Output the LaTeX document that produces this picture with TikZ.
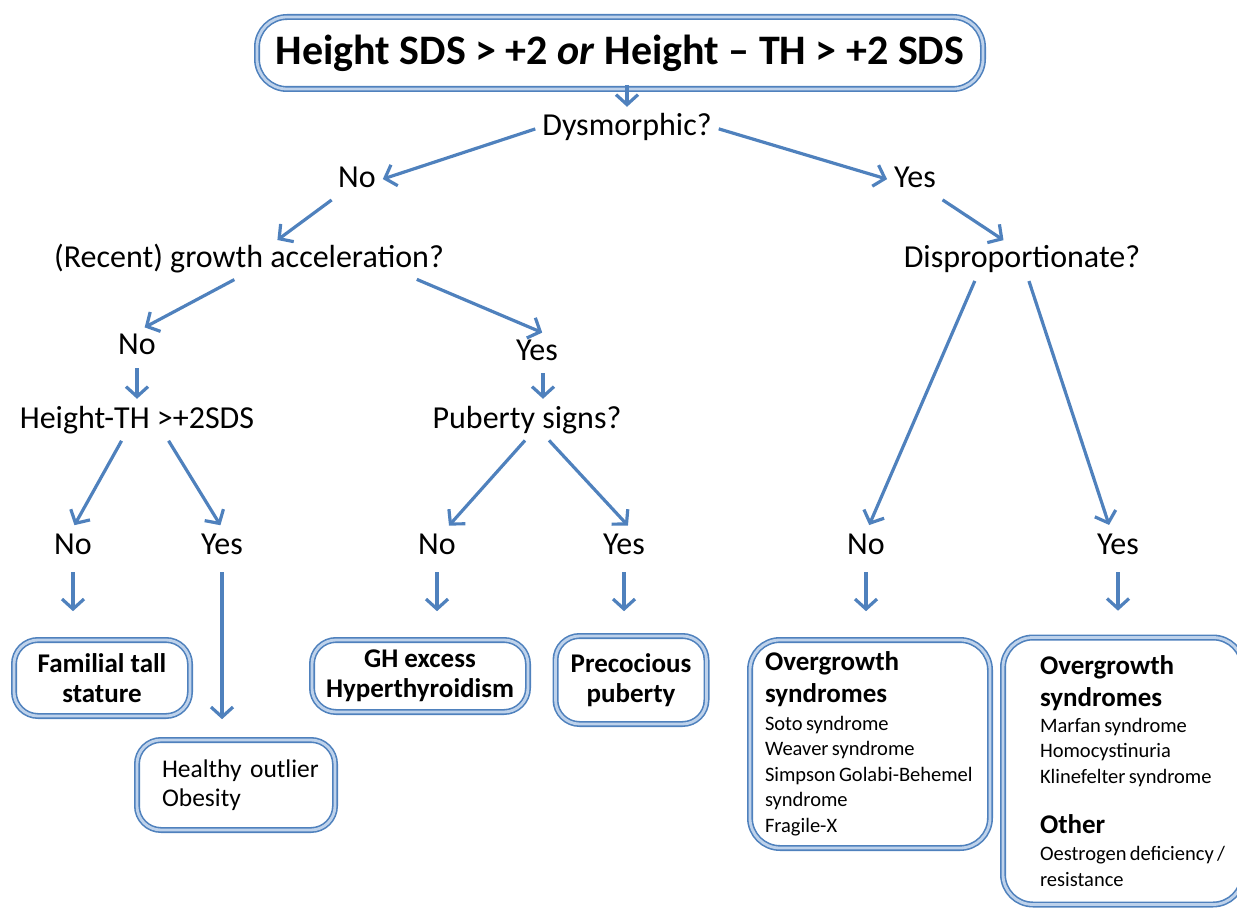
\documentclass[tikz,border=0pt]{standalone}
\usepackage{fontspec}
\setmainfont{Carlito}
\usetikzlibrary{arrows.meta}
\definecolor{flowblue}{RGB}{79,129,189}
\definecolor{glowblue}{RGB}{190,210,235}
\def\lblfont{\fontsize{32}{38}\selectfont}
\def\boxfont{\bfseries\fontsize{27}{30}\selectfont}
\def\headfont{\bfseries\fontsize{27}{32}\selectfont}
\def\smallfont{\mdseries\fontsize{20.5}{25.5}\selectfont}
\tikzset{
	lbl/.style={font=\lblfont, inner sep=4pt, text height=22pt, text depth=6pt},
	arr/.style={draw=flowblue, line width=3.2pt, -{Straight Barb[length=10pt,width=22pt]}, shorten <=3pt, shorten >=3pt},
	drop/.style={arr, shorten <=8pt, shorten >=28pt},
	outbox/.style={draw=flowblue, line width=1.6pt, double=glowblue, double distance=2.8pt, rounded corners=24pt, fill=white}
}

\begin{document}
\begin{tikzpicture}[x=1pt, y=-1pt]
		%%%%% START %%%%%
		\useasboundingbox (0,0) rectangle (1237,909);
		
		\node[outbox, rounded corners=30pt, minimum width=726pt, minimum height=72pt, font=\bfseries\fontsize{42}{48}\selectfont] (top) at (620,53) {Height SDS > +2 \textit{or} Height – TH > +2 SDS};
		
		\node[lbl] (dys) at (627,128) {Dysmorphic?};
		\node[lbl] (no1) at (357,180) {No};
		\node[lbl] (yes1) at (915,180) {Yes};
		\node[lbl] (rec) at (249,260) {(Recent) growth acceleration?};
		\node[lbl] (disp) at (1022,260) {Disproportionate?};
		\node[lbl] (no2) at (137,347) {No};
		\node[lbl] (yes2) at (537,352) {Yes};
		\node[lbl] (ht) at (137,420) {Height-TH >+2SDS};
		\node[lbl] (pub) at (527,420) {Puberty signs?};
		
		\node[lbl] (no3) at (73,546) {No};
		\node[lbl] (yes3) at (222,546) {Yes};
		\node[lbl] (no4) at (437,546) {No};
		\node[lbl] (yes4) at (624,546) {Yes};
		\node[lbl] (no5) at (866,546) {No};
		\node[lbl] (yes5) at (1118,546) {Yes};
		
		% end boxes
		\node[outbox, minimum width=176pt, minimum height=76pt, font=\boxfont, align=center] (fam) at (102,678) {Familial tall\\stature};
		\node[outbox, text width=174pt, inner xsep=12pt, minimum height=90pt, font=\fontsize{25.5}{29}\selectfont, align=left] (hea) at (236,785) {\leftskip=13pt\hyphenpenalty=10000 Healthy outlier\\Obesity\par};
		\node[outbox, minimum width=216pt, minimum height=72pt, font=\boxfont, align=center] (gh) at (420,676) {GH excess\\Hyperthyroidism};
		\node[outbox, minimum width=151pt, minimum height=88pt, font=\boxfont, align=center] (prec) at (631,680) {Precocious\\puberty};
		\node[outbox, rounded corners=30pt, text width=210pt, inner xsep=15pt, minimum height=208pt, align=left] (og1) at (870,744) {\hyphenpenalty=10000\headfont Overgrowth\\syndromes\par\vspace{2pt}\smallfont Soto syndrome\\Weaver syndrome\\Simpson Golabi-Behemel\\syndrome\\Fragile-X\par};
		\node[outbox, rounded corners=30pt, text width=214pt, inner xsep=13pt, minimum height=267pt, align=left] (og2) at (1123,771) {\leftskip=24pt\hyphenpenalty=10000\headfont Overgrowth\\syndromes\par\smallfont Marfan syndrome\\Homocystinuria\\Klinefelter syndrome\par\vspace{18pt}\headfont Other\par\vspace{2pt}\smallfont Oestrogen deficiency /\\resistance\par};
		
		% arrows
		\draw[arr, shorten <=-5pt] (top.south -| dys) -- (dys.north);
		\draw[arr] (dys.west) -- (no1.east);
		\draw[arr] (dys.east) -- (yes1.west);
		\draw[arr] (no1.south west) -- ([xshift=26pt]rec.north);
		\draw[arr] (yes1.south east) -- ([xshift=-16pt]disp.north);
		\draw[arr] ([xshift=-12pt]rec.south) -- ([xshift=5pt]no2.north);
		\draw[arr] ([xshift=-34pt]rec.south east) -- ([xshift=8pt]yes2.north);
		\draw[arr] (no2.south) -- (no2.south |- ht.north);
		\draw[arr] ([xshift=6pt]yes2.south) -- ([xshift=6pt]yes2.south |- pub.north);
		
		\draw[arr] ([xshift=-14pt]ht.south) -- (no3.north);
		\draw[arr] ([xshift=30pt]ht.south) -- (yes3.north);
		\draw[arr] (pub.south) -- ([xshift=10pt]no4.north);
		\draw[arr] ([xshift=20pt]pub.south) -- ([xshift=6pt]yes4.north);
		\draw[arr] ([xshift=-46pt]disp.south) -- ([xshift=2pt]no5.north);
		\draw[arr] ([xshift=6pt]disp.south) -- ([xshift=-8pt]yes5.north);
		
		\draw[drop] (no3.south) -- (no3.south |- fam.north);
		\draw[drop, shorten >=20pt] (yes3.south) -- (yes3.south |- hea.north);
		\draw[drop] (no4.south) -- (no4.south |- gh.north);
		\draw[drop, shorten >=24pt] (yes4.south) -- (yes4.south |- prec.north);
		\draw[drop] (no5.south) -- (no5.south |- og1.north);
		\draw[drop, shorten >=26pt] (yes5.south) -- (yes5.south |- og2.north);
		
		%%%%% END %%%%%
\end{tikzpicture}
\end{document}
